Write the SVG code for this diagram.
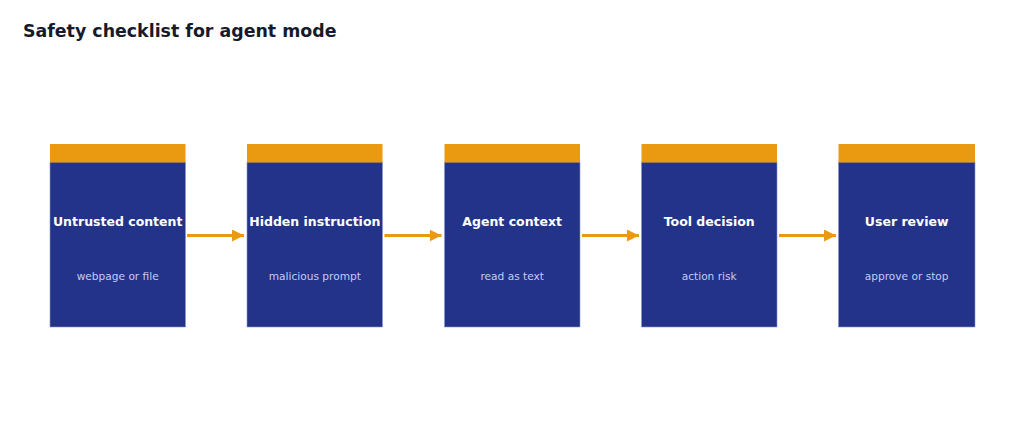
<svg xmlns="http://www.w3.org/2000/svg" width="1024" height="441" viewBox="0 0 1024 441">
<defs>
<style>
.title{font-family:"DejaVu Sans",sans-serif;font-weight:bold;font-size:17.4px;fill:#161a2c}
.body{fill:#23338a;stroke:#8a95d0;stroke-width:0.6}
.cap{fill:#e99a10}
.nt{font-family:"DejaVu Sans",sans-serif;font-weight:bold;font-size:12.5px;fill:#ffffff;text-anchor:middle}
.ns{font-family:"DejaVu Sans",sans-serif;font-size:10.6px;fill:#c5cbf2;text-anchor:middle}
.conn{stroke:#e99a10;stroke-width:3;fill:none}
</style>
<marker id="ah" viewBox="0 0 10 10" refX="10" refY="5" markerWidth="4" markerHeight="4" markerUnits="strokeWidth" orient="auto">
<path d="M0,0 L10,5 L0,10 Z" fill="#e99a10"/>
</marker>
</defs>
<rect width="1024" height="441" fill="#ffffff"/>
<text class="title" x="23" y="36.5">Safety checklist for agent mode</text>
<g id="n1">
<rect class="body" x="50" y="162" width="135.5" height="165"/>
<rect class="cap" x="50" y="144" width="135.5" height="18.5"/>
<text class="nt" x="117.7" y="226">Untrusted content</text>
<text class="ns" x="117.7" y="280">webpage or file</text>
</g>
<g id="n2">
<rect class="body" x="247" y="162" width="135.5" height="165"/>
<rect class="cap" x="247" y="144" width="135.5" height="18.5"/>
<text class="nt" x="314.8" y="226">Hidden instruction</text>
<text class="ns" x="314.8" y="280">malicious prompt</text>
</g>
<g id="n3">
<rect class="body" x="444.5" y="162" width="135.5" height="165"/>
<rect class="cap" x="444.5" y="144" width="135.5" height="18.5"/>
<text class="nt" x="512.2" y="226">Agent context</text>
<text class="ns" x="512.2" y="280">read as text</text>
</g>
<g id="n4">
<rect class="body" x="641.5" y="162" width="135.5" height="165"/>
<rect class="cap" x="641.5" y="144" width="135.5" height="18.5"/>
<text class="nt" x="709.2" y="226">Tool decision</text>
<text class="ns" x="709.2" y="280">action risk</text>
</g>
<g id="n5">
<rect class="body" x="838.5" y="162" width="136.5" height="165"/>
<rect class="cap" x="838.5" y="144" width="136.5" height="18.5"/>
<text class="nt" x="906.7" y="226">User review</text>
<text class="ns" x="906.7" y="280">approve or stop</text>
</g>
<g id="connectors">
<line class="conn" x1="187" y1="235.5" x2="244" y2="235.5" marker-end="url(#ah)"/>
<line class="conn" x1="384.5" y1="235.5" x2="441.5" y2="235.5" marker-end="url(#ah)"/>
<line class="conn" x1="582" y1="235.5" x2="639" y2="235.5" marker-end="url(#ah)"/>
<line class="conn" x1="779" y1="235.5" x2="836" y2="235.5" marker-end="url(#ah)"/>
</g>
</svg>
